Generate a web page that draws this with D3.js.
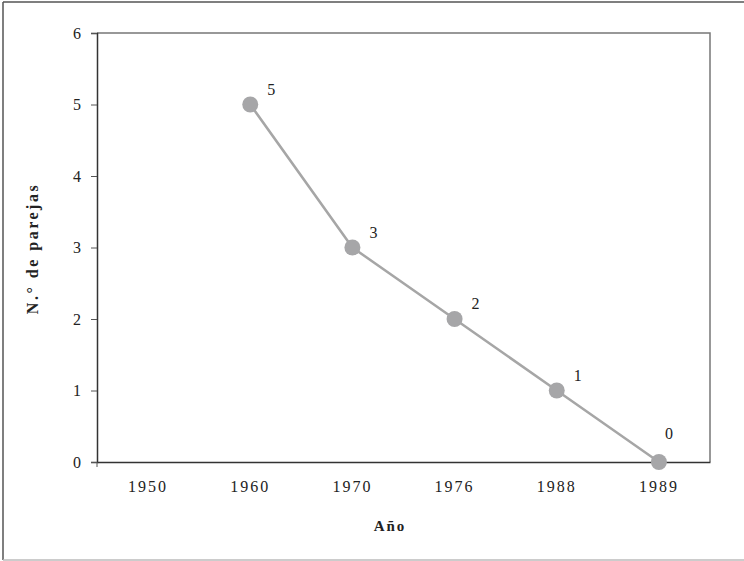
<!DOCTYPE html>
<html>
<head>
<meta charset="utf-8">
<script src="https://cdn.jsdelivr.net/npm/d3@7"></script>
<style>
  body { margin: 0; background: #fff; }
  svg text { font-family: "Liberation Serif", "DejaVu Serif", serif; fill: #222; }
</style>
</head>
<body>
<svg id="chart" width="744" height="561"></svg>
<script>
const years = ['1950', '1960', '1970', '1976', '1988', '1989']
const parejas = [null, 5, 3, 2, 1, 0]
const yTicks = [0, 1, 2, 3, 4, 5, 6]

const svg = d3.select('#chart')
const W = 744, H = 561
const m = { left: 97, top: 33, right: 710, bottom: 462 }

// marco exterior
svg.append('line').attr('x1', 3).attr('x2', 3).attr('y1', 2).attr('y2', 560)
    .attr('stroke', '#555').attr('stroke-width', 1.5)
svg.append('line').attr('x1', 3).attr('x2', W).attr('y1', 2).attr('y2', 2)
    .attr('stroke', '#555').attr('stroke-width', 1.5)
svg.append('line').attr('x1', 3).attr('x2', W).attr('y1', 560).attr('y2', 560)
    .attr('stroke', '#bbb').attr('stroke-width', 1.5)

let x = d3.scaleBand().domain(years).range([m.left, m.right])
let y = d3.scaleLinear().domain([0, 6]).range([m.bottom, m.top])

// borde del area de trazado (arriba y derecha)
svg.append('path')
    .attr('d', `M${m.left},${m.top}H${m.right}V${m.bottom}`)
    .attr('fill', 'none').attr('stroke', '#777').attr('stroke-width', 1.5)

// eje y
let yAxis = svg.append('g')
    .attr('transform', `translate(${m.left},0)`)
    .call(d3.axisLeft(y).tickValues(yTicks).tickSize(6).tickPadding(10).tickFormat(d3.format('d')))
yAxis.select('.domain').attr('stroke', '#333').attr('stroke-width', 1.5)
yAxis.selectAll('.tick line').attr('stroke', '#555')
yAxis.selectAll('text').style('font-size', '16px').attr('fill', '#222')

// eje x
let xAxis = svg.append('g')
    .attr('transform', `translate(0,${m.bottom})`)
    .call(d3.axisBottom(x).tickSize(0).tickPadding(19))
xAxis.select('.domain').attr('stroke', '#333').attr('stroke-width', 1.5)
xAxis.selectAll('text').style('font-size', '16px').attr('fill', '#222')
    .style('letter-spacing', '2px')
svg.append('line').attr('x1', m.left).attr('x2', m.left)
    .attr('y1', m.bottom).attr('y2', m.bottom + 5).attr('stroke', '#555')

// titulos
svg.append('text')
    .attr('x', 390).attr('y', 531)
    .attr('text-anchor', 'middle')
    .style('font-size', '15px').style('font-weight', 'bold')
    .style('letter-spacing', '2px')
    .text('Año')

svg.append('text')
    .attr('transform', `translate(38,${(m.top + m.bottom) / 2 + 1}) rotate(-90)`)
    .attr('text-anchor', 'middle')
    .style('font-size', '16px').style('font-weight', 'bold')
    .style('letter-spacing', '2.5px')
    .text('N.° de parejas')

// serie
let pts = years.map((d, i) => ({ year: d, value: parejas[i], last: i === years.length - 1 }))
    .filter(d => d.value !== null)

let line = d3.line()
    .x(d => x(d.year) + x.bandwidth() / 2)
    .y(d => y(d.value))

svg.append('path')
    .datum(pts)
    .attr('d', line)
    .attr('fill', 'none')
    .attr('stroke', '#a6a6a6')
    .attr('stroke-width', 2.5)

svg.selectAll('circle.pt')
    .data(pts)
    .enter()
    .append('circle')
    .classed('pt', true)
    .attr('cx', d => x(d.year) + x.bandwidth() / 2)
    .attr('cy', d => y(d.value))
    .attr('r', 8)
    .attr('fill', '#a6a6a8')

svg.selectAll('text.lbl')
    .data(pts)
    .enter()
    .append('text')
    .classed('lbl', true)
    .attr('x', d => x(d.year) + x.bandwidth() / 2 + (d.last ? 10 : 21))
    .attr('y', d => y(d.value) + (d.last ? -23 : -10))
    .attr('text-anchor', 'middle')
    .style('font-size', '16px')
    .text(d => d.value)
</script>
</body>
</html>
